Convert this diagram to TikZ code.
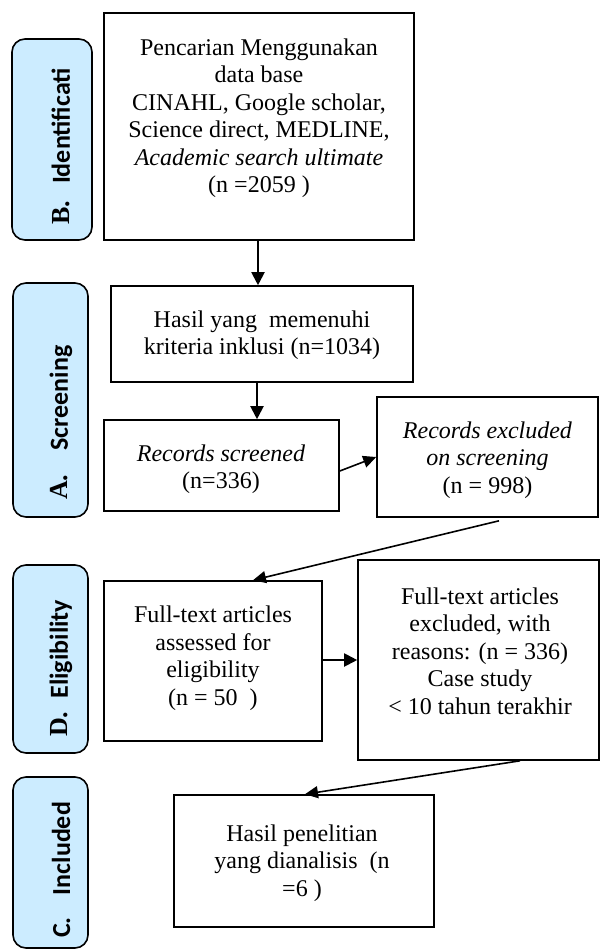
\documentclass[tikz,border=0pt]{standalone}
\usepackage{fontspec}
\setmainfont{Liberation Serif}
\newfontfamily\lblsans{Carlito}
\newfontfamily\lblserif{Liberation Serif}
\usetikzlibrary{arrows.meta}
\definecolor{lblblue}{RGB}{204,236,255}
\begin{document}
\begin{tikzpicture}[x=1pt,y=-1pt,
  box/.style={draw,line width=1.6pt,inner sep=0pt},
  txt/.style={align=center,inner sep=0pt,font=\fontsize{24}{27.5}\selectfont},
  side/.style={draw,line width=1.6pt,fill=lblblue,rounded corners=13pt,inner sep=0pt},
  sidetxt/.style={rotate=90,anchor=west,inner sep=0pt,font=\fontsize{26}{30}\selectfont\lblsans\bfseries},
  arr/.style={-{Triangle[length=13pt,width=13pt]},line width=2pt},
  arrthin/.style={-{Triangle[length=13pt,width=12pt]},line width=1.6pt}]
\useasboundingbox (0,0) rectangle (600,950);
% side labels
\node[side,minimum width=80pt,minimum height=201pt] (l1) at (52,139.5) {};
\node[side,minimum width=75pt,minimum height=234pt] (l2) at (50.5,400) {};
\node[side,minimum width=75pt,minimum height=188pt] (l3) at (50.5,659) {};
\node[side,minimum width=75pt,minimum height=171pt] (l4) at (50.5,862.5) {};
\node[sidetxt] (n1) at (61,225) {{\lblserif B.}\hspace{17pt}Identificati};
\node[sidetxt] (n2) at (61,500) {{\lblserif A.}\hspace{24pt}Screening};
\node[sidetxt] (n3) at (61,737) {{\lblserif D.}\hspace{13pt}Eligibility};
\node[sidetxt] (n4) at (61,938) {C.\hspace{22pt}Included};
% boxes
\node[box,minimum width=310pt,minimum height=227pt] (b1) at (259,126.5) {};
\node[box,minimum width=302pt,minimum height=96pt] (b2) at (262,334) {};
\node[box,minimum width=235pt,minimum height=91pt] (b3) at (221.5,465.5) {};
\node[box,minimum width=221pt,minimum height=120pt] (b4) at (487.5,457) {};
\node[box,minimum width=218pt,minimum height=160pt] (b5) at (213,661) {};
\node[box,minimum width=241pt,minimum height=200pt] (b6) at (478.5,660) {};
\node[box,minimum width=260pt,minimum height=132pt] (b7) at (304,861) {};
% texts
\node[txt] (t1) at (259,118) {Pencarian Menggunakan\\data base\\CINAHL, Google scholar,\\Science direct, MEDLINE,\\\textit{Academic search ultimate}\\(n =2059 )};
\node[txt] (t2) at (262,335) {Hasil yang\ \ memenuhi\\kriteria inklusi (n=1034)};
\node[txt] (t3) at (221,469) {\textit{Records screened}\\(n=336)};
\node[txt] (t4) at (487.5,460) {\textit{Records excluded}\\\textit{on screening}\\(n = 998)};
\node[txt] (t5) at (213,658) {Full-text articles\\assessed for\\eligibility\\(n = 50\ \ )};
\node[txt] (t6) at (480,651) {Full-text articles\\excluded, with\\reasons: (n = 336)\\Case study\\< 10 tahun terakhir};
\node[txt] (t7) at (302,863) {Hasil penelitian\\yang dianalisis\ \ (n\\=6 )};
% connectors
\draw[arr] ([xshift=-1pt]b1.south) -- ([xshift=-1pt]b1.south |- b2.north);
\draw[arr] ([xshift=-5pt]b2.south) -- ([xshift=-5pt]b2.south |- b3.north);
\draw[arrthin] ([yshift=-5.5pt]b3.east) -- (b4.west);
\draw[arrthin] ([xshift=11.5pt,yshift=-3pt]b4.south) -- ([xshift=40pt]b5.north);
\draw[arr] (b5.east |- b6.west) -- (b6.west);
\draw[arrthin] ([xshift=41.5pt]b6.south) -- ([xshift=1pt]b7.north);
\end{tikzpicture}
\end{document}
